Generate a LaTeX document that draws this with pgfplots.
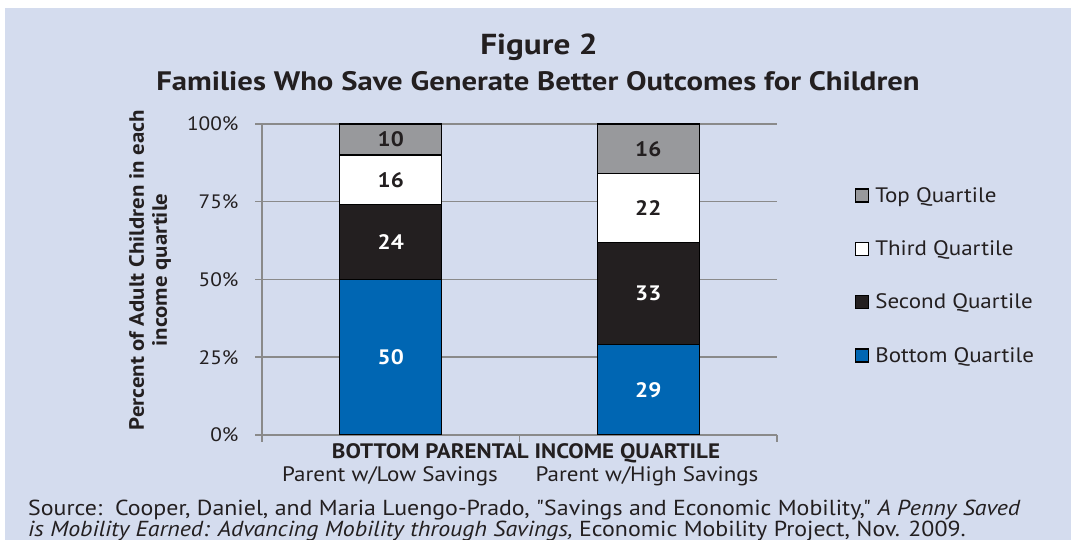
\documentclass[border=0pt]{standalone}
\usepackage{pgfplots}
\pgfplotsset{compat=1.18}
\usepackage{fontspec}
\setmainfont[FakeStretch=1.1, Ligatures=TeXOff]{PT Sans}
\newfontfamily\titlefont[FakeStretch=1.15]{PT Sans}
\definecolor{bgblue}{HTML}{D4DCEE}
\definecolor{ink}{HTML}{231F20}
\definecolor{topgray}{HTML}{98999C}
\definecolor{botblue}{HTML}{0066B3}
\definecolor{gridgray}{HTML}{8A8A8A}
\begin{document}
\begin{tikzpicture}[x=1bp,y=1bp]
\useasboundingbox (0,0) rectangle (1071,540);
\clip (0,0) rectangle (1071,540);
\fill[white] (0,0) rectangle (1071,540);
\fill[bgblue] (5,0) rectangle (1071,532);
\node[font=\titlefont\bfseries\fontsize{29}{34}\selectfont, text=ink] at (539,493) {Figure 2};
\node[font=\titlefont\bfseries\fontsize{26.8}{30}\selectfont, text=ink] at (538,459) {Families Who Save Generate Better Outcomes for Children};
\node[rotate=90, align=center, font=\bfseries\fontsize{20.8}{23}\selectfont, text=ink] at (150,270) {Percent of Adult Children in each\\income quartile};
\begin{axis}[
  at={(262bp,105bp)}, anchor=south west,
  width=515bp, height=311bp, scale only axis,
  xmin=-0.5, xmax=1.5, ymin=0, ymax=100,
  axis lines*=left,
  axis line style={draw=gridgray, line width=1.5bp},
  ytick={0,25,50,75,100}, yticklabels={0\%,25\%,50\%,75\%,100\%},
  ymajorgrids, grid style={draw=gridgray, line width=1.5bp},
  xtick={-0.5,0.5,1.5}, xticklabels={},
  tick align=outside, major tick length=7bp,
  tick style={draw=gridgray, line width=1.5bp},
  yticklabel style={font=\fontsize{19.5}{23}\selectfont, text=ink, xshift=-13bp},
  ybar stacked, bar width=102bp,
  legend reversed, legend cell align=left,
  legend style={at={(1.151,0.513)}, anchor=west, draw=none, fill=none,
    font=\fontsize{21}{24}\selectfont, text=ink, row sep=33bp, inner sep=0pt},
  legend image code/.code={\draw[#1,line width=1.4bp] (0bp,-6.5bp) rectangle (13bp,6.5bp); \path (17bp,0bp);},
]
\addplot[fill=botblue, draw=black, line width=1.3bp] coordinates {(0,50) (1,29)};
\addplot[fill=ink, draw=black, line width=1.3bp] coordinates {(0,24) (1,33)};
\addplot[fill=white, draw=black, line width=1.3bp] coordinates {(0,16) (1,22)};
\addplot[fill=topgray, draw=black, line width=1.3bp] coordinates {(0,10) (1,16)};
\legend{Bottom Quartile, Second Quartile, Third Quartile, Top Quartile}
\coordinate (a4) at (axis cs:0,95);
\coordinate (a3) at (axis cs:0,82);
\coordinate (a2) at (axis cs:0,62);
\coordinate (a1) at (axis cs:0,25);
\coordinate (b4) at (axis cs:1,92);
\coordinate (b3) at (axis cs:1,73);
\coordinate (b2) at (axis cs:1,45.5);
\coordinate (b1) at (axis cs:1,14.5);
\end{axis}
\begin{scope}[every node/.style={font=\bfseries\fontsize{21}{24}\selectfont}]
\node[text=ink] at (a4) {10};
\node[text=ink] at (a3) {16};
\node[text=white] at (a2) {24};
\node[text=white] at (a1) {50};
\node[text=ink] at (b4) {16};
\node[text=ink] at (b3) {22};
\node[text=white] at (b2) {33};
\node[text=white] at (b1) {29};
\end{scope}
\node[font=\bfseries\fontsize{21}{24}\selectfont, text=ink] at (526,87) {BOTTOM PARENTAL INCOME QUARTILE};
\node[font=\fontsize{21}{24}\selectfont, text=ink] at (390,64) {Parent w/Low Savings};
\node[font=\fontsize{21}{24}\selectfont, text=ink] at (647,64) {Parent w/High Savings};
\node[anchor=north west, align=left, inner sep=0pt, font=\fontsize{21.8}{19.8}\selectfont, text=ink] at (28,40) {Source:\ \ Cooper, Daniel, and Maria Luengo-Prado, "Savings and Economic Mobility," \textit{A Penny Saved}\\\textit{is Mobility Earned: Advancing Mobility through Savings,} Economic Mobility Project, Nov. 2009.};
\end{tikzpicture}
\end{document}
